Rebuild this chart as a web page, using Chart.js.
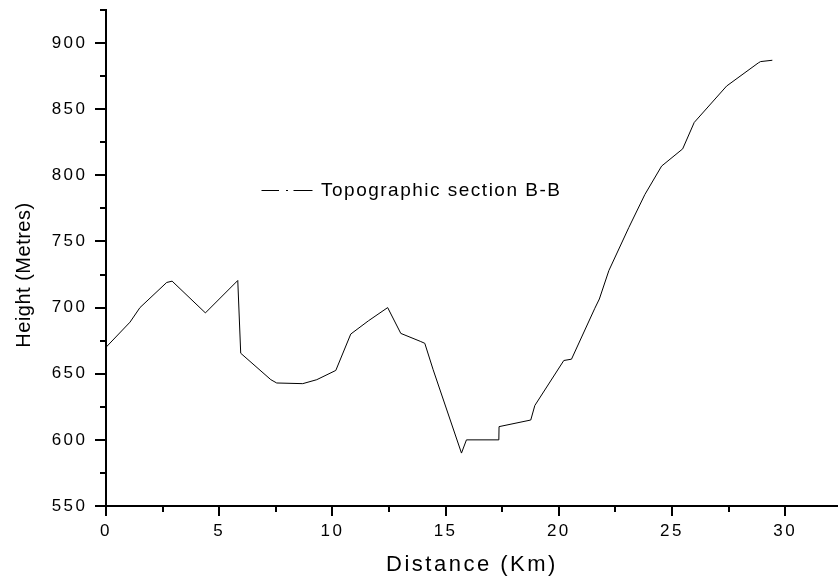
<!DOCTYPE html>
<html>
<head>
<meta charset="utf-8">
<script src="https://cdn.jsdelivr.net/npm/chart.js@4/dist/chart.umd.min.js"></script>
<style>
  html, body { margin: 0; padding: 0; background: #fff; }
  #wrap { width: 838px; height: 582px; }
</style>
</head>
<body>
<div id="wrap"><canvas id="c" width="838" height="582"></canvas></div>
<script>
// ---- data ----
const distanceKm = [0, 1.06, 1.5, 2.68, 2.92, 4.39, 5.82, 5.95, 7.28, 7.54, 8.69, 9.31, 10.15, 10.81, 11.59, 12.44, 13.02, 13.88, 14.08, 14.45, 15.70, 15.92, 17.35, 17.36, 18.76, 18.94, 20.22, 20.56, 21.59, 21.79, 22.21, 23.09, 23.80, 24.54, 25.47, 25.98, 27.41, 28.81, 28.91, 29.43];
const heightM    = [670, 689, 700, 719, 720, 696, 720.5, 665.5, 645.5, 643, 642.5, 645.5, 652.5, 680, 690, 700, 680.5, 674.5, 673, 653, 590, 600, 600, 610, 615, 626, 660, 661, 699.5, 706.5, 728, 760.5, 785.5, 807, 820, 840, 867.5, 885, 886, 887];
const seriesLabel = 'Topographic section B-B';
const xMajorTicks = [0, 5, 10, 15, 20, 25, 30];
const xMinorTicks = [2.5, 7.5, 12.5, 17.5, 22.5, 27.5];
const yMajorTicks = [550, 600, 650, 700, 750, 800, 850, 900];
const yMinorTicks = [575, 625, 675, 725, 775, 825, 875, 925];
const xTitle = 'Distance (Km)';
const yTitle = 'Height (Metres)';

const FONT = "'Liberation Sans', Arial, sans-serif";

const points = distanceKm.map((d, i) => ({ x: d, y: heightM[i] }));

const spacingPlugin = {
  id: 'spacing',
  beforeDraw(chart) { chart.ctx.letterSpacing = '2.5px'; },
  afterDraw(chart) {
    const ctx = chart.ctx;
    const area = chart.chartArea;
    const xs = chart.scales.x, ys = chart.scales.y;
    ctx.save();
    ctx.letterSpacing = '0px';
    ctx.strokeStyle = '#000';
    ctx.lineWidth = 2;
    // tick marks
    const drawX = (vals, len) => vals.forEach(v => {
      const p = Math.round(xs.getPixelForValue(v));
      ctx.beginPath(); ctx.moveTo(p, area.bottom); ctx.lineTo(p, area.bottom + len); ctx.stroke();
    });
    const drawY = (vals, len) => vals.forEach(v => {
      const p = Math.round(ys.getPixelForValue(v));
      ctx.beginPath(); ctx.moveTo(area.left, p); ctx.lineTo(area.left - len, p); ctx.stroke();
    });
    drawX(xMajorTicks, 10); drawX(xMinorTicks, 6);
    drawY(yMajorTicks, 11); drawY(yMinorTicks, 6);

    // y title
    ctx.fillStyle = '#000';
    ctx.font = '20px ' + FONT;
    ctx.letterSpacing = '0.5px';
    ctx.textAlign = 'center';
    ctx.textBaseline = 'middle';
    ctx.translate(24, 275);
    ctx.rotate(-Math.PI / 2);
    ctx.fillText(yTitle, 0, 0);
    ctx.setTransform(1, 0, 0, 1, 0, 0);

    // legend
    ctx.lineWidth = 1;
    ctx.beginPath();
    ctx.moveTo(261.5, 190.5); ctx.lineTo(279, 190.5);
    ctx.moveTo(286, 190.5); ctx.lineTo(288, 190.5);
    ctx.moveTo(293.5, 190.5); ctx.lineTo(312.5, 190.5);
    ctx.stroke();
    ctx.font = '19px ' + FONT;
    ctx.letterSpacing = '1.5px';
    ctx.textAlign = 'left';
    ctx.fillText(seriesLabel, 321, 191);
    ctx.restore();
    ctx.letterSpacing = '0px';
  }
};

function zeroPad(s) { s.paddingTop = 0; s.paddingBottom = 0; s.paddingLeft = 0; s.paddingRight = 0; }

new Chart(document.getElementById('c'), {
  type: 'line',
  data: {
    datasets: [{
      label: seriesLabel,
      data: points,
      borderColor: '#000',
      borderWidth: 1,
      pointRadius: 0,
      tension: 0,
      fill: false
    }]
  },
  options: {
    responsive: false,
    animation: false,
    devicePixelRatio: 1,
    layout: { padding: { top: 10, right: 0, left: 0, bottom: 0 } },
    plugins: { legend: { display: false }, tooltip: { enabled: false } },
    scales: {
      x: {
        type: 'linear',
        min: 0, max: 32.33,
        afterBuildTicks(s) { s.ticks = xMajorTicks.map(v => ({ value: v })); },
        afterFit(s) { s.height = 76; zeroPad(s); },
        grid: { display: false, drawTicks: false },
        border: { display: true, color: '#000', width: 2 },
        ticks: { color: '#000', font: { family: FONT, size: 17 }, padding: 15, maxRotation: 0, autoSkip: false },
        title: { display: true, text: xTitle, color: '#000', font: { family: FONT, size: 22 }, padding: { top: 0, bottom: 4 } }
      },
      y: {
        type: 'linear',
        min: 550, max: 925,
        afterBuildTicks(s) { s.ticks = yMajorTicks.map(v => ({ value: v })); },
        afterFit(s) { s.width = 106; zeroPad(s); },
        grid: { display: false, drawTicks: false },
        border: { display: true, color: '#000', width: 2 },
        ticks: { color: '#000', font: { family: FONT, size: 17 }, padding: 18.5, autoSkip: false },
        title: { display: false }
      }
    }
  },
  plugins: [spacingPlugin]
});
</script>
</body>
</html>
